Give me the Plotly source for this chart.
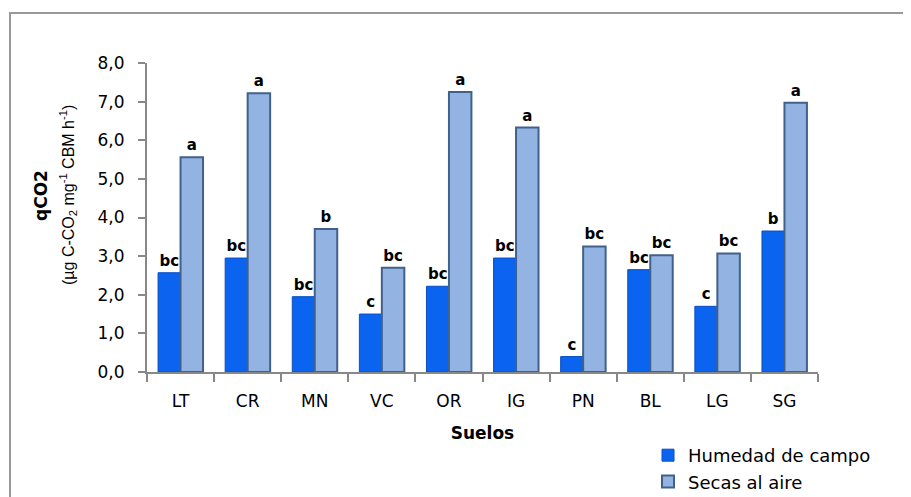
import plotly.graph_objects as go

suelos = ["LT", "CR", "MN", "VC", "OR", "IG", "PN", "BL", "LG", "SG"]
humedad = [2.57, 2.95, 1.95, 1.50, 2.22, 2.95, 0.40, 2.65, 1.70, 3.65]
secas = [5.56, 7.22, 3.70, 2.70, 7.25, 6.33, 3.25, 3.02, 3.07, 6.97]
letras_humedad = ["bc", "bc", "bc", "c", "bc", "bc", "c", "bc", "c", "b"]
letras_secas = ["a", "a", "b", "bc", "a", "a", "bc", "bc", "bc", "a"]
y_ticks = [0, 1, 2, 3, 4, 5, 6, 7, 8]

# page body has an 8px margin; compensate so the figure lands at window pixel coords
OFF = 8
W, H = 911 - OFF, 497 - OFF
L, T = 147 - OFF, 63 - OFF
pw, ph = 818 - 147, 372 - 63
R, B = W - L - pw, H - T - ph

def px_x(x):
    return (x - OFF - L) / pw

def px_y(y):
    return (T + ph - (y - OFF)) / ph

fig = go.Figure()
fig.add_trace(go.Bar(
    x=suelos, y=humedad, name="Humedad de campo",
    marker=dict(color="#0A64F0", line=dict(color="#0A4FC0", width=1)),
    text=letras_humedad, textposition="outside",
    textfont=dict(family="DejaVu Sans", size=15, color="black", weight="bold"),
    cliponaxis=False,
))
fig.add_trace(go.Bar(
    x=suelos, y=secas, name="Secas al aire",
    marker=dict(color="#93B4E2", line=dict(color="#42618A", width=2)),
    text=letras_secas, textposition="outside",
    textfont=dict(family="DejaVu Sans", size=15, color="black", weight="bold"),
    cliponaxis=False,
))

fig.update_layout(
    width=W, height=H,
    margin=dict(l=L, r=R, t=T, b=B, autoexpand=False),
    paper_bgcolor="white", plot_bgcolor="white",
    barmode="group", bargap=0.33, bargroupgap=0,
    separators=",.",
    font=dict(family="DejaVu Sans", size=15, color="black"),
    showlegend=True,
    legend=dict(x=px_x(648), y=px_y(437), xanchor="left", yanchor="top",
                font=dict(size=18, family="DejaVu Sans"), bgcolor="rgba(0,0,0,0)",
                itemwidth=30, tracegroupgap=0),
    xaxis=dict(
        showline=True, linecolor="#888888", linewidth=2,
        ticks="outside", tickson="boundaries", ticklen=8, tickcolor="#888888", tickwidth=2,
        tickfont=dict(size=17), ticklabelstandoff=13,
        title=dict(text="<b>Suelos</b>", font=dict(size=17), standoff=17),
    ),
    yaxis=dict(
        range=[0, 8], tickvals=y_ticks, tickformat=".1f",
        showline=True, linecolor="#888888", linewidth=2,
        ticks="outside", ticklen=7, tickcolor="#888888", tickwidth=2,
        showgrid=False, zeroline=False,
        tickfont=dict(size=17), ticklabelstandoff=10,
    ),
    shapes=[dict(type="rect", xref="paper", yref="paper",
                 x0=px_x(10), x1=px_x(930), y0=px_y(520), y1=px_y(13),
                 line=dict(color="#999999", width=2), fillcolor="rgba(0,0,0,0)", layer="below")],
    annotations=[
        dict(text="<b>qCO2</b>", xref="paper", yref="paper", x=px_x(41), y=px_y(196),
             xanchor="center", yanchor="middle",
             textangle=-90, showarrow=False, font=dict(size=17)),
        dict(text="(µg C-CO<sub>2</sub> mg<sup>-1</sup> CBM h<sup>-1</sup>)", xref="paper", yref="paper",
             x=px_x(68), y=px_y(195), xanchor="center", yanchor="middle",
             textangle=-90, showarrow=False,
             font=dict(size=16, family="Liberation Sans")),
    ],
)

fig.write_html("out.html")
